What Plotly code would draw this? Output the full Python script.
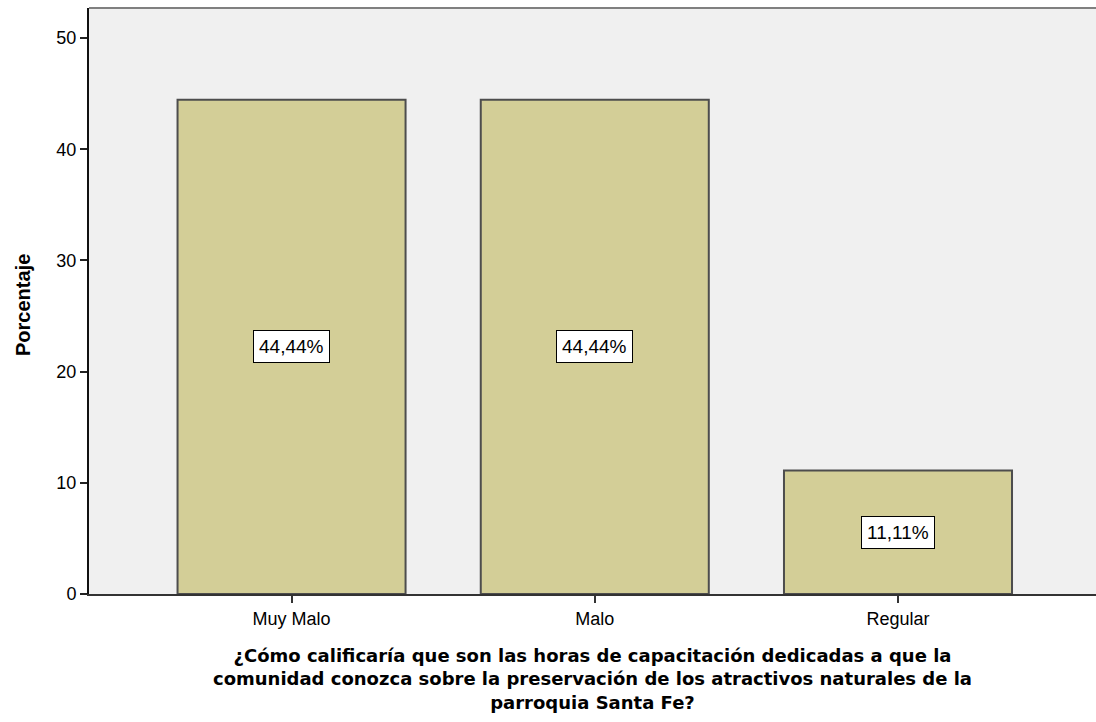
import plotly.graph_objects as go

categories = ["Muy Malo", "Malo", "Regular"]
percentages = [44.44, 44.44, 11.11]
y_ticks = [0, 10, 20, 30, 40, 50]
x_title_lines = [
    "¿Cómo calificaría que son las horas de capacitación dedicadas a que la",
    "comunidad conozca sobre la preservación de los atractivos naturales de la",
    "parroquia Santa Fe?",
]
y_title = "Porcentaje"

FONT = "Liberation Sans, Arial, sans-serif"
TITLE_FONT = "DejaVu Sans, Liberation Sans, Arial, sans-serif"

fig = go.Figure()
fig.add_trace(go.Bar(
    x=list(range(len(categories))),
    y=percentages,
    width=0.752,
    marker=dict(color="#d3ce97", line=dict(color="#4d4d4d", width=2)),
    hoverinfo="skip",
))

annotations = []
for i, v in enumerate(percentages):
    annotations.append(dict(
        x=i, y=v / 2, xref="x", yref="y",
        text=f"{v:.2f}".replace(".", ",") + "%",
        showarrow=False,
        font=dict(family=FONT, size=19, color="black"),
        bgcolor="white", bordercolor="black", borderwidth=1, borderpad=5,
    ))

annotations.append(dict(
    x=0.5, y=0, xref="paper", yref="paper",
    xanchor="center", yanchor="middle",
    yshift=-85,
    text="<b>" + "<br>".join(x_title_lines) + "</b>",
    showarrow=False, align="center",
    font=dict(family=TITLE_FONT, size=18, color="black"),
))

annotations.append(dict(
    x=0, y=0.5, xref="paper", yref="paper",
    xanchor="center", yanchor="middle", xshift=-66, yshift=-4,
    text=f"<b>{y_title}</b>", textangle=-90, showarrow=False,
    font=dict(family=FONT, size=20, color="black"),
))

fig.update_layout(
    width=1096, height=722,
    margin=dict(l=89, r=0, t=8, b=128, pad=0),
    paper_bgcolor="white",
    plot_bgcolor="#f0f0f0",
    showlegend=False,
    annotations=annotations,
    shapes=[dict(type="line", xref="paper", yref="paper", x0=0, x1=1, y0=1, y1=1,
                 line=dict(color="#808080", width=2))],
    xaxis=dict(
        range=[-0.668, 2.653],
        tickmode="array",
        tickvals=list(range(len(categories))),
        ticktext=categories,
        ticks="outside", ticklen=7, tickwidth=2, tickcolor="#333",
        showline=True, linecolor="#333", linewidth=2,
        showgrid=False, zeroline=False,
        tickfont=dict(family=FONT, size=18, color="black"),
        fixedrange=True,
    ),
    yaxis=dict(
        range=[0, 52.7],
        tickmode="array",
        tickvals=y_ticks,
        ticks="outside", ticklen=7, tickwidth=2, tickcolor="#222",
        showline=True, linecolor="#111", linewidth=2,
        showgrid=False, zeroline=False,
        tickfont=dict(family=FONT, size=18, color="black"),
        fixedrange=True,
    ),
)

fig.write_html(
    "out.html",
    config={"displayModeBar": False},
    post_script="document.body.style.margin='0';document.body.style.overflow='hidden';",
)
